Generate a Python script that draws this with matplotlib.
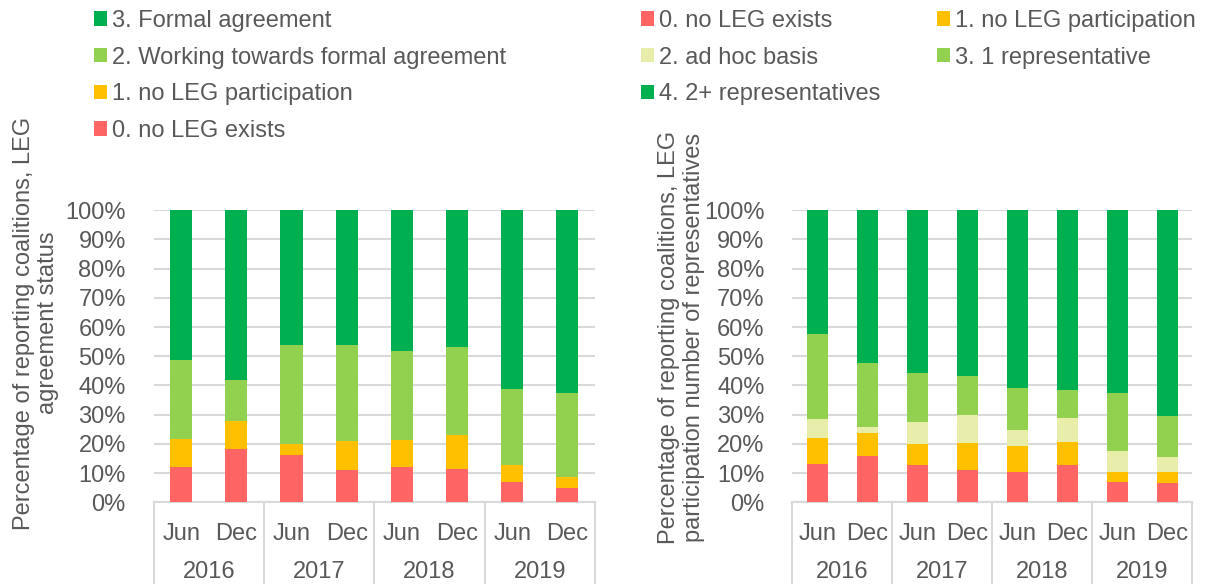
import matplotlib.pyplot as plt
import matplotlib.transforms as mtransforms
import numpy as np

# categories
months = ["Jun", "Dec"] * 4
years = ["2016", "2017", "2018", "2019"]

# left chart: LEG agreement status (% of reporting coalitions)
agr_labels = ["0. no LEG exists", "1. no LEG participation",
              "2. Working towards formal agreement", "3. Formal agreement"]
agr_no_leg = [11.9, 18.2, 16.3, 11.2, 12.2, 11.4, 7.0, 4.9]
agr_no_part = [9.8, 9.5, 3.8, 9.7, 9.0, 11.7, 5.7, 3.8]
agr_working = [26.9, 14.0, 33.6, 32.8, 30.5, 30.1, 26.0, 28.6]
agr_formal = [51.4, 58.3, 46.3, 46.3, 48.3, 46.8, 61.3, 62.7]

# right chart: LEG participation number of representatives
rep_labels = ["0. no LEG exists", "1. no LEG participation", "2. ad hoc basis",
              "3. 1 representative", "4. 2+ representatives"]
rep_no_leg = [13.0, 15.7, 12.7, 11.0, 10.3, 12.7, 6.9, 6.7]
rep_no_part = [8.9, 7.9, 7.3, 9.3, 9.0, 8.0, 3.3, 3.5]
rep_adhoc = [6.7, 2.0, 7.5, 9.5, 5.4, 8.1, 7.4, 5.4]
rep_one = [28.9, 22.2, 16.8, 13.4, 14.3, 9.7, 19.7, 14.0]
rep_two = [42.5, 52.2, 55.7, 56.8, 61.0, 61.5, 62.7, 70.4]

RED = "#FF6565"
YEL = "#FFC000"
PALE = "#E8EEAA"
LGREEN = "#92D050"
GREEN = "#00B050"
TXT = "#595959"
GRID = "#D9D9D9"
FS = 17

plt.rcParams["font.family"] = ["Liberation Sans", "DejaVu Sans"]

fig = plt.figure(figsize=(12.19, 5.84), dpi=100)
ax1 = fig.add_axes([0.126, 0.140, 0.362, 0.500])
ax2 = fig.add_axes([0.650, 0.140, 0.328, 0.500])


def stacked(ax, series, colors, labels, width):
    x = np.arange(len(months))
    bottom = np.zeros(len(months))
    handles = []
    for vals, c, lab in zip(series, colors, labels):
        v = np.array(vals) / 100.0
        h = ax.bar(x, v, width, bottom=bottom, color=c, label=lab, zorder=3)
        handles.append(h)
        bottom += v
    return handles


def style(ax):
    ax.set_ylim(0, 1)
    ax.set_xlim(-0.5, len(months) - 0.5)
    ticks = np.arange(0, 1.01, 0.1)
    ax.set_yticks(ticks)
    ax.set_yticklabels([f"{int(round(t * 100))}%" for t in ticks],
                       fontsize=FS, color=TXT)
    ax.yaxis.grid(True, color=GRID, linewidth=1.5, zorder=0)
    ax.tick_params(axis="y", length=0, pad=20)
    for s in ["top", "right", "left"]:
        ax.spines[s].set_visible(False)
    ax.spines["bottom"].set_color(GRID)
    ax.spines["bottom"].set_linewidth(1.5)
    ax.set_xticks(np.arange(len(months)))
    ax.set_xticklabels(months, fontsize=FS, color=TXT)
    ax.tick_params(axis="x", length=0, pad=15)
    trans = mtransforms.blended_transform_factory(ax.transData, ax.transAxes)
    for i, yr in enumerate(years):
        ax.text(2 * i + 0.5, -0.24, yr, transform=trans, ha="center", va="center",
                fontsize=FS, color=TXT)
    for xs in np.arange(-0.5, len(months), 2):
        ax.plot([xs, xs], [0, -0.3], transform=trans, color=GRID, linewidth=1.5,
                clip_on=False)


h1 = stacked(ax1, [agr_no_leg, agr_no_part, agr_working, agr_formal],
             [RED, YEL, LGREEN, GREEN], agr_labels, 0.4)
style(ax1)
h2 = stacked(ax2, [rep_no_leg, rep_no_part, rep_adhoc, rep_one, rep_two],
             [RED, YEL, PALE, LGREEN, GREEN], rep_labels, 0.42)
style(ax2)

fig.text(0.0295, 0.447, "Percentage of reporting coalitions, LEG\nagreement status",
         rotation=90, ha="center", va="center", fontsize=FS, color=TXT,
         multialignment="center", linespacing=1.15)
fig.text(0.559, 0.423, "Percentage of reporting coalitions, LEG\nparticipation number of representatives",
         rotation=90, ha="center", va="center", fontsize=FS, color=TXT,
         multialignment="center", linespacing=1.15)

leg_kw = dict(frameon=False, fontsize=FS, handlelength=0.55, handleheight=0.55,
              handletextpad=0.2, labelspacing=0.62, labelcolor=TXT,
              borderaxespad=0, borderpad=0)
fig.legend(handles=h1[::-1], labels=agr_labels[::-1], loc="upper left",
           bbox_to_anchor=(0.077, 0.983), **leg_kw)
# row-wise order: (0,1), (2,3), (4)
order = [0, 2, 4, 1, 3]
fig.legend(handles=[h2[i] for i in order], labels=[rep_labels[i] for i in order],
           loc="upper left", bbox_to_anchor=(0.526, 0.983), ncol=2,
           columnspacing=2.4, **leg_kw)

fig.savefig("out.png", dpi=100)
